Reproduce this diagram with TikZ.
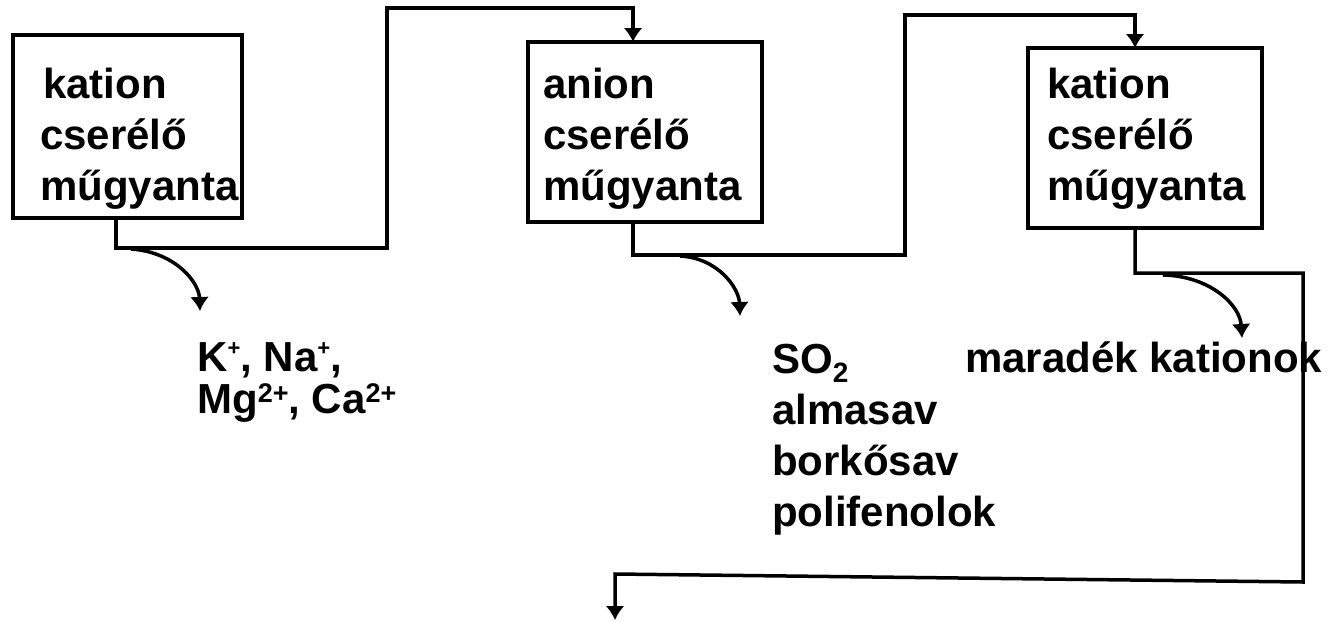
\documentclass[tikz,border=0pt]{standalone}
\usepackage{fontspec}
\setmainfont{Liberation Sans}
\usetikzlibrary{arrows.meta}
\newcommand\supx[1]{\smash{\raisebox{0.26em}{\fontsize{27}{27}\selectfont #1}}}
\newcommand\supp[1]{\smash{\raisebox{0.36em}{\fontsize{22}{22}\selectfont #1}}}
\newcommand\subx[1]{\smash{\raisebox{-0.22em}{\fontsize{28}{28}\selectfont #1}}}
\begin{document}
\begin{tikzpicture}[x=1pt,y=-1pt,
  boxst/.style={draw, line width=3.5pt, inner sep=0pt, outer sep=0pt, anchor=north west},
  txt/.style={inner sep=0pt, anchor=base west, align=left, font=\fontsize{42}{51}\selectfont\bfseries},
  wire/.style={line width=3.5pt, line join=miter},
  arr/.style={wire, -{Latex[length=14pt,width=19pt]}},
  sidearr/.style={line width=3.5pt, -{Latex[length=14pt,width=19pt]}}]
\useasboundingbox (0,0) rectangle (1332,621);
% boxes
\node[boxst, minimum width=229pt, minimum height=183pt] (box1) at (13,35) {};
\node[boxst, minimum width=234pt, minimum height=180pt] (box2) at (528,42) {};
\node[boxst, minimum width=234pt, minimum height=180pt] (box3) at (1028,48) {};
% box texts (anchored at the baseline of the last line)
\node[txt] (t1) at (40,200) {\hspace{3pt}kation\\cserélő\\műgyanta};
\node[txt] (t2) at (543,200) {anion\\cserélő\\műgyanta};
\node[txt] (t3) at (1047,200) {kation\\cserélő\\műgyanta};
% output labels
\node[txt, font=\fontsize{42}{42}\selectfont\bfseries] (ions) at (197,413)
  {K\supp{+}, Na\supp{+},\\Mg\supx{2+}, Ca\supx{2+}};
\node[txt] (acids) at (772,526) {SO\subx{2}\\almasav\\borkősav\\polifenolok};
\node[txt] (rest) at (965,372) {maradék kationok};
% wire coordinates
\coordinate (a1) at (116,248);
\coordinate (a2) at (387,248);
\coordinate (a3) at (387,8);
\coordinate (a4) at (633,8);
\coordinate (b1) at (633,255);
\coordinate (b2) at (905,255);
\coordinate (b3) at (905,15);
\coordinate (b4) at (1135,15);
\coordinate (c1) at (1135,273);
\coordinate (c2) at (1303,273);
\coordinate (c3) at (1303,582);
\coordinate (c4) at (615,574);
\coordinate (out) at (615,620);
% connectors
\draw[arr] (box1.south -| a1) -- (a1) -- (a2) -- (a3) -- (a4) -- (box2.north -| a4);
\draw[arr] (box2.south -| b1) -- (b1) -- (b2) -- (b3) -- (b4) -- (box3.north -| b4);
\draw[arr] (box3.south -| c1) -- (c1) -- (c2) -- (c3) -- (c4) -- (out);
% side outputs
\coordinate (s1) at (131,249);
\coordinate (e1) at (200,311);
\coordinate (s2) at (680,256);
\coordinate (e2) at (740,316);
\coordinate (s3) at (1163,275);
\coordinate (e3) at (1242,338);
\draw[sidearr] (s1) .. controls (175,252) and (199,282) .. (e1);
\draw[sidearr] (s2) .. controls (718,258) and (739,288) .. (e2);
\draw[sidearr] (s3) .. controls (1210,276) and (1240,305) .. (e3);
\end{tikzpicture}
\end{document}
